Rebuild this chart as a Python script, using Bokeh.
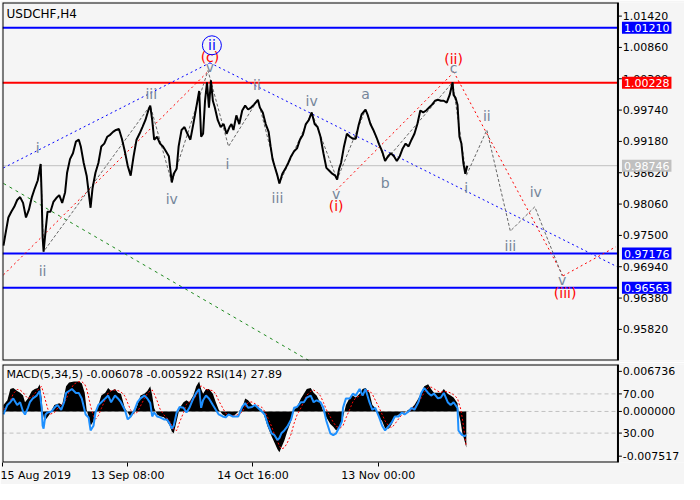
from bokeh.plotting import figure
from bokeh.layouts import column
from bokeh.models import Label, FixedTicker, Range1d
from bokeh.core.properties import value
from bokeh.embed import file_html
from bokeh.resources import INLINE

FONT = "DejaVu Sans"
BG = "#f5f5f5"
WAVE_GRAY = "#75869a"

# ---------------- price data (H4 bar index from 15 Aug 2019 00:00) ----------------
bar_idx = [1, 3, 6, 9, 12, 15, 18, 21, 24, 27, 30, 33, 36, 39, 40, 41, 42, 44, 46, 49,
           52, 55, 58, 61, 64, 66, 69, 72, 75, 78, 80, 83, 86, 90, 92, 95, 98, 101, 104, 107,
           110, 113, 116, 119, 122, 125, 128, 131, 134, 137, 140, 143, 146, 149, 151, 153, 155, 158, 161, 164,
           167, 170, 173, 175, 178, 180, 183, 186, 189, 192, 195, 198, 201, 203, 205, 207, 209, 211, 213, 215,
           217, 220, 223, 226, 229, 232, 234, 236, 239, 242, 245, 248, 251, 254, 257, 261, 263, 266, 269, 272,
           274, 276, 278, 281, 283, 286, 289, 292, 295, 298, 301, 304, 307, 310, 313, 316, 319, 322, 325, 328,
           331, 334, 337, 340, 342, 344, 346, 349, 352, 355, 358, 361, 364, 367, 371, 373, 376, 379, 382, 385,
           388, 391, 394, 397, 400, 403, 406, 409, 412, 415, 418, 421, 424, 427, 430, 433, 436, 439, 442, 445,
           448, 451, 454, 457, 460, 461, 463, 465, 467, 469, 471, 473, 475]
close = [0.97316, 0.97524, 0.97820, 0.97924, 0.98011, 0.98133, 0.98185, 0.98081, 0.97820, 0.97959,
         0.98185, 0.98342, 0.98481, 0.98776, 0.98220, 0.97474, 0.97211, 0.97577, 0.97924, 0.97924,
         0.98098, 0.98168, 0.98220, 0.98081, 0.98272, 0.98620, 0.98863, 0.98968, 0.99176, 0.99211,
         0.99090, 0.98794, 0.98568, 0.97994, 0.98342, 0.98620, 0.98794, 0.99090, 0.99141, 0.99263,
         0.99298, 0.99350, 0.99385, 0.99403, 0.99229, 0.99003, 0.98742, 0.98568, 0.98916, 0.99211,
         0.99316, 0.99437, 0.99559, 0.99733, 0.99820, 0.99559, 0.99211, 0.99263, 0.99141, 0.99090,
         0.99003, 0.98916, 0.98446, 0.98603, 0.98690, 0.99090, 0.99385, 0.99437, 0.99316, 0.99211,
         0.99490, 0.99785, 1.00081, 0.99263, 0.99316, 0.99907, 1.00237, 0.99785, 1.00272, 0.99907,
         0.99785, 0.99559, 0.99437, 0.99490, 0.99316, 0.99437, 0.99490, 0.99385, 0.99646, 0.99490,
         0.99733, 0.99820, 0.99750, 0.99785, 0.99837, 0.99924, 0.99785, 0.99698, 0.99490, 0.99350,
         0.99090, 0.98863, 0.98742, 0.98568, 0.98429, 0.98603, 0.98690, 0.98794, 0.98916, 0.99003,
         0.99055, 0.99211, 0.99298, 0.99490, 0.99559, 0.99698, 0.99490, 0.99437, 0.99263, 0.98968,
         0.98707, 0.98655, 0.98603, 0.98568, 0.98498, 0.98690, 0.98794, 0.99090, 0.99316, 0.99263,
         0.99229, 0.99229, 0.99472, 0.99663, 0.99750, 0.99663, 0.99490, 0.99385, 0.99263, 0.99124,
         0.99003, 0.98829, 0.98916, 0.98968, 0.98916, 0.98829, 0.98916, 0.99055, 0.99141, 0.99090,
         0.99211, 0.99316, 0.99490, 0.99733, 0.99698, 0.99733, 0.99785, 0.99837, 0.99907, 0.99924,
         0.99907, 0.99907, 0.99872, 1.00011, 1.00237, 1.00011, 0.99959, 0.99837, 0.99263, 0.99141,
         0.98794, 0.98603, 0.98746]

price_ticks = [1.01420, 1.00860, 1.00300, 0.99740, 0.99180, 0.98620, 0.98060, 0.97500, 0.96940, 0.96380, 0.95820]
levels = [1.01210, 1.00228, 0.97176, 0.96563]
level_colors = ["#0000ff", "#ff0000", "#0000ff", "#0000ff"]
last_price = 0.98746

# wave labels
wave_x = [36, 41, 152, 173, 212, 230, 260, 281, 316, 341, 371, 391, 461, 474, 495, 519, 545, 572]
wave_y = [0.99055, 0.96864, 1.00029, 0.98150, 1.00515, 0.98776, 1.00185, 0.98168, 0.99907, 0.98237,
          1.00029, 0.98429, 1.00498, 0.98342, 0.99629, 0.97316, 0.98272, 0.96707]
wave_t = ["i", "ii", "iii", "iv", "v", "i", "ii", "iii", "iv", "v", "a", "b", "c", "i", "ii", "iii", "iv", "v"]
red_x = [212, 341, 461, 575]
red_y = [1.00689, 0.98029, 1.00655, 0.96464]
red_t = ["(c)", "(i)", "(ii)", "(iii)"]
blue_x = [214]
blue_y = [1.00898]
blue_t = ["ii"]

# wave connector path (gray dashed)
zig_x = [39, 42, 151, 173, 210, 231, 261, 283, 316, 342, 371, 391, 460, 474, 495, 519, 544, 572]
zig_y = [0.98776, 0.97211, 0.99820, 0.98446, 1.00446, 0.99090, 0.99924, 0.98429, 0.99698, 0.98498,
         0.99750, 0.98829, 1.00237, 0.98568, 0.99385, 0.97577, 0.98011, 0.96777]

# trend lines (x pairs, y pairs)
blue_lines = [([1, 212], [0.98707, 1.00585]), ([212, 629], [1.00585, 0.96933])]
red_lines = [([1, 211], [0.96794, 1.00446]), ([341, 460], [0.98307, 1.00394]),
             ([461, 573], [1.00428, 0.96777]), ([573, 627], [0.96777, 0.97298])]
green_lines = [([1, 313], [0.98429, 0.95264])]

# ---------------- MACD / RSI data ----------------
ind_idx = [1, 5, 8, 11, 15, 18, 21, 23, 26, 30, 33, 36, 38, 40, 41, 43, 46, 48, 53, 58,
           61, 65, 68, 73, 78, 81, 84, 86, 88, 90, 93, 95, 98, 101, 105, 108, 111, 115, 118, 121,
           125, 128, 131, 135, 138, 141, 145, 148, 151, 153, 155, 158, 161, 165, 168, 171, 173, 175, 178, 181,
           185, 188, 191, 195, 198, 201, 203, 205, 208, 211, 215, 218, 221, 225, 228, 231, 235, 238, 241, 245,
           248, 251, 255, 258, 261, 265, 268, 271, 275, 278, 281, 283, 285, 288, 291, 295, 298, 301, 305, 308,
           311, 315, 318, 321, 325, 328, 331, 335, 338, 341, 345, 348, 351, 355, 358, 361, 365, 368, 371, 375,
           378, 381, 385, 388, 391, 395, 398, 401, 405, 408, 411, 415, 418, 421, 425, 428, 431, 435, 438, 441,
           445, 448, 451, 455, 458, 461, 465, 466, 468, 470, 472, 474]
macd = [0.00108, 0.00190, 0.00377, 0.00393, 0.00345, 0.00314, 0.00266, 0.00155, 0.00219, 0.00345,
        0.00377, 0.00393, 0.00456, 0.00219, -0.00003, -0.00162, -0.00098, -0.00051, 0.00108, 0.00139,
        0.00108, 0.00425, 0.00488, 0.00504, 0.00504, 0.00472, 0.00314, 0.00029, -0.00098, -0.00241,
        -0.00162, -0.00003, 0.00108, 0.00266, 0.00314, 0.00393, 0.00345, 0.00377, 0.00314, 0.00298,
        0.00060, -0.00019, -0.00098, -0.00019, 0.00108, 0.00266, 0.00298, 0.00345, 0.00425, 0.00266,
        0.00060, -0.00051, -0.00082, -0.00098, -0.00162, -0.00241, -0.00336, -0.00367, -0.00162, 0.00060,
        0.00155, 0.00187, 0.00155, 0.00266, 0.00425, 0.00504, 0.00377, 0.00298, 0.00377, 0.00377,
        0.00298, 0.00155, 0.00029, -0.00051, -0.00082, -0.00051, -0.00082, -0.00051, -0.00003, 0.00060,
        0.00219, 0.00187, 0.00108, 0.00108, 0.00076, 0.00029, -0.00098, -0.00257, -0.00415, -0.00526,
        -0.00637, -0.00684, -0.00605, -0.00494, -0.00336, -0.00162, 0.00029, 0.00076, 0.00219, 0.00298,
        0.00377, 0.00393, 0.00314, 0.00266, 0.00139, -0.00003, -0.00098, -0.00209, -0.00257, -0.00320,
        -0.00241, -0.00098, 0.00108, 0.00234, 0.00266, 0.00234, 0.00298, 0.00377, 0.00393, 0.00314,
        0.00108, 0.00060, -0.00098, -0.00162, -0.00288, -0.00288, -0.00209, -0.00098, -0.00051, -0.00019,
        -0.00019, 0.00029, 0.00060, 0.00108, 0.00219, 0.00314, 0.00425, 0.00456, 0.00377, 0.00314,
        0.00314, 0.00314, 0.00377, 0.00298, 0.00266, 0.00234, 0.00139, -0.00019, -0.00162, -0.00367,
        -0.00478, -0.006078]
signal = [0.0003, 0.0010, 0.0018, 0.0030, 0.0037, 0.0036, 0.0032, 0.0027, 0.0022, 0.0024,
          0.0030, 0.0036, 0.0040, 0.0042, 0.0036, 0.0024, 0.0006, -0.0005, -0.0002, 0.0009,
          0.0012, 0.0020, 0.0033, 0.0046, 0.0050, 0.0050, 0.0046, 0.0038, 0.0024, 0.0009,
          -0.0008, -0.0013, -0.0007, 0.0005, 0.0020, 0.0031, 0.0035, 0.0036, 0.0035, 0.0033,
          0.0026, 0.0014, 0.0002, -0.0004, -0.0001, 0.0009, 0.0022, 0.0030, 0.0035, 0.0036,
          0.0030, 0.0018, 0.0004, -0.0006, -0.0011, -0.0017, -0.0023, -0.0030, -0.0032, -0.0018,
          -0.0002, 0.0012, 0.0016, 0.0019, 0.0027, 0.0038, 0.0043, 0.0041, 0.0037, 0.0036,
          0.0035, 0.0029, 0.0018, 0.0006, -0.0003, -0.0006, -0.0007, -0.0007, -0.0005, -0.0001,
          0.0008, 0.0015, 0.0016, 0.0013, 0.0010, 0.0007, 0.0000, -0.0010, -0.0025, -0.0039,
          -0.0050, -0.0058, -0.0063, -0.0061, -0.0053, -0.0038, -0.0020, -0.0006, 0.0006, 0.0017,
          0.0027, 0.0034, 0.0036, 0.0033, 0.0026, 0.0015, 0.0003, -0.0009, -0.0018, -0.0025,
          -0.0028, -0.0024, -0.0011, 0.0004, 0.0016, 0.0023, 0.0026, 0.0030, 0.0034, 0.0035,
          0.0029, 0.0019, 0.0006, -0.0005, -0.0016, -0.0025, -0.0027, -0.0021, -0.0012, -0.0006,
          -0.0003, -0.0001, 0.0003, 0.0007, 0.0014, 0.0023, 0.0032, 0.0040, 0.0041, 0.0038,
          0.0034, 0.0032, 0.0034, 0.0033, 0.0031, 0.0028, 0.0022, 0.0016, 0.0006, -0.0012,
          -0.0035, -0.005922]
rsi_idx = [1, 5, 8, 11, 15, 18, 21, 23, 26, 28, 31, 35, 38, 40, 41, 42, 44, 46, 50, 53,
           56, 60, 63, 65, 68, 71, 75, 78, 81, 85, 88, 90, 93, 95, 98, 101, 105, 108, 111, 115,
           118, 121, 125, 128, 131, 135, 138, 141, 145, 148, 151, 153, 155, 158, 161, 165, 168, 171, 173, 175,
           178, 181, 185, 188, 191, 195, 198, 201, 203, 205, 208, 211, 215, 218, 221, 225, 228, 231, 235, 238,
           241, 245, 248, 251, 255, 258, 261, 265, 268, 271, 275, 278, 281, 283, 285, 288, 291, 295, 298, 301,
           305, 308, 311, 315, 318, 321, 325, 328, 331, 335, 338, 341, 345, 347, 348, 351, 355, 358, 361, 365,
           368, 371, 375, 378, 381, 385, 388, 391, 395, 398, 401, 405, 408, 411, 415, 418, 421, 425, 428, 431,
           435, 438, 441, 445, 448, 451, 455, 458, 461, 465, 466, 468, 470, 472, 474]
rsi = [49, 58.7, 61.5, 65.4, 58.7, 61.5, 52, 49, 55.8, 61.5, 65.4, 68.3, 73, 55.8, 37.5, 34.6, 49, 51, 52, 55.8,
       58.7, 53.8, 61.5, 71, 73, 75, 71, 71, 65.4, 49, 46, 32.7, 37.5, 51, 58.7, 61.5, 65.4, 68.3, 61.5, 68.3,
       65.4, 61.5, 53.8, 44, 47, 53.8, 61.5, 65.4, 68.3, 65.4, 60.6, 47, 51, 47, 46, 44, 44, 39.4, 34.6, 37.5,
       51, 56.7, 55.8, 51, 55.8, 65.4, 71, 75, 55.8, 63.5, 68.3, 65.4, 58.7, 53.8, 49, 47, 46, 49, 47, 47,
       47, 56.7, 60.6, 55.8, 56.7, 58.7, 55.8, 52, 49, 39.4, 29.8, 27.9, 23, 25, 29.8, 32.7, 36.5, 44, 55.8, 56.7,
       61.5, 61.5, 66.3, 68.3, 61.5, 63.5, 61.5, 55.8, 42.3, 29.8, 27.9, 29.8, 37.5, 42.3, 55.8, 65.4, 65.4, 70.2, 68.3, 75,
       68.3, 75, 61.5, 53.8, 55.8, 46, 37.5, 32.7, 37.5, 41.3, 47, 47, 51, 49, 52, 55.8, 53.8, 61.5, 71, 76,
       71, 68.3, 70.2, 65.4, 66.3, 71, 61.5, 58.7, 61.5, 55.8, 32.7, 29.8, 27.9, 26.9, 27.89]

x_tick_pos = [0, 128, 256, 384]
x_tick_lab = ["15 Aug 2019", "13 Sep 08:00", "14 Oct 16:00", "13 Nov 00:00"]

# plotting area spans bar 0..629; the right-hand price scale lives beyond it
X_LO, X_AX, X_HI = 0, 629, 697
P_LO, P_HI = 0.95264, 1.01663
M_LO, M_HI = -0.00858, 0.00789


def rsi_to_macd(r):
    return M_LO + (M_HI - M_LO) * r / 100.0


def add_frame(fig, lo, hi):
    fig.quad(left=[X_LO], right=[X_AX], bottom=[lo], top=[hi], fill_color=None,
             line_color="black", line_width=2)


def add_hlines(fig, ys, colors, width, dash="solid"):
    n = len(ys)
    fig.segment(x0=[X_LO] * n, x1=[X_AX] * n, y0=ys, y1=ys, line_color=colors,
                line_width=width, line_dash=dash)


def add_scale(fig, ticks, labels, lo, hi):
    n = len(ticks)
    fig.segment(x0=[X_AX], x1=[X_AX], y0=[lo], y1=[hi], line_color="black", line_width=1)
    fig.segment(x0=[X_AX] * n, x1=[X_AX + 4] * n, y0=ticks, y1=ticks, line_color="black", line_width=1)
    fig.text(x=[X_AX + 5] * n, y=ticks, text=labels, text_font=value(FONT), text_font_size="11px",
             text_color="black", text_align="left", text_baseline="middle")


# ---------------- price panel ----------------
p = figure(width=684, height=362, x_range=Range1d(X_LO, X_HI), y_range=Range1d(P_LO, P_HI),
           output_backend="svg", toolbar_location=None, y_axis_location=None, x_axis_location=None,
           min_border_left=2, min_border_right=0, min_border_top=2, min_border_bottom=2,
           background_fill_color=BG, border_fill_color=BG, outline_line_color=None)
p.grid.visible = False

add_hlines(p, [last_price], ["#c0c0c0"], 1)
add_hlines(p, levels, level_colors, 2)

for xs, ys in green_lines:
    p.line(xs, ys, line_color="#1f8a1f", line_width=1, line_dash="3 4")
for xs, ys in blue_lines:
    p.line(xs, ys, line_color="#0000ff", line_width=1, line_dash="2 3")
for xs, ys in red_lines:
    p.line(xs, ys, line_color="#ff0000", line_width=1, line_dash="2 3")
p.line(zig_x, zig_y, line_color="#666666", line_width=1, line_dash="3 2")

p.line(bar_idx, close, line_color="black", line_width=2)

p.text(wave_x, wave_y, text=wave_t, text_font=value(FONT), text_font_size="14px",
       text_color=WAVE_GRAY, text_align="center", text_baseline="middle")
p.text(red_x, red_y, text=red_t, text_font=value(FONT), text_font_size="14px",
       text_color="#ff0000", text_align="center", text_baseline="middle")
p.scatter(blue_x, blue_y, marker="circle", size=19, fill_color=None, line_color="#0000ff", line_width=1)
p.text(blue_x, blue_y, text=blue_t, text_font=value(FONT), text_font_size="14px",
       text_color="#0000ff", text_align="center", text_baseline="middle")

add_frame(p, P_LO, P_HI)
add_scale(p, price_ticks, [f"{t:.5f}" for t in price_ticks], P_LO, P_HI)

p.add_layout(Label(x=X_LO, y=P_HI, x_offset=4, y_offset=-4, text="USDCHF,H4", text_font=FONT,
                   text_font_size="12px", text_color="black", text_baseline="top", text_align="left"))

for lv, c in zip(levels + [last_price], level_colors + ["#c0c0c0"]):
    p.add_layout(Label(x=X_AX, y=lv, x_offset=4, text=f"{lv:.5f}", text_font=FONT, text_font_size="11px",
                       text_color="white", background_fill_color=c, text_baseline="middle",
                       text_align="left", padding=2))

# ---------------- MACD / RSI panel ----------------
p2 = figure(width=684, height=122, x_range=p.x_range, y_range=Range1d(M_LO, M_HI),
            output_backend="svg", toolbar_location=None, y_axis_location=None,
            min_border_left=2, min_border_right=0, min_border_top=2, min_border_bottom=20,
            background_fill_color=BG, border_fill_color=BG, outline_line_color=None)
p2.grid.visible = False
p2.extra_y_ranges = {"rsi": Range1d(0, 100)}

m_ticks = [0.006736, rsi_to_macd(70), 0.0, rsi_to_macd(30), -0.007517]
m_labels = ["0.006736", "70.00", "0.000000", "30.00", "-0.007517"]

xa = p2.xaxis[0]
xa.ticker = FixedTicker(ticks=x_tick_pos)
xa.major_label_overrides = {t: l for t, l in zip(x_tick_pos, x_tick_lab)}
xa.major_label_text_align = "left"
xa.major_label_text_font = FONT
xa.major_label_text_font_size = "11px"
xa.major_label_text_color = "black"
xa.major_tick_in = 0
xa.major_tick_out = 4
xa.minor_tick_in = 0
xa.minor_tick_out = 0
xa.axis_line_color = None
xa.major_label_standoff = 2

add_hlines(p2, [rsi_to_macd(70), 0.0, rsi_to_macd(30)], ["#c0c0c0"] * 3, 1, "4 3")

p2.varea(x=ind_idx, y1=[0] * len(ind_idx), y2=macd, fill_color="black")
p2.line(ind_idx, signal, line_color="#ff0000", line_width=1, line_dash="2 2")
p2.line(rsi_idx, rsi, y_range_name="rsi", line_color="#1e90ff", line_width=2)

add_frame(p2, M_LO, M_HI)
add_scale(p2, m_ticks, m_labels, M_LO, M_HI)

p2.add_layout(Label(x=X_LO, y=M_HI, x_offset=4, y_offset=-3,
                    text="MACD(5,34,5) -0.006078 -0.005922 RSI(14) 27.89", text_font=FONT,
                    text_font_size="11px", text_color="black", text_baseline="top", text_align="left"))

layout = column(p, p2)
open("out.html", "w").write(file_html(layout, INLINE))
